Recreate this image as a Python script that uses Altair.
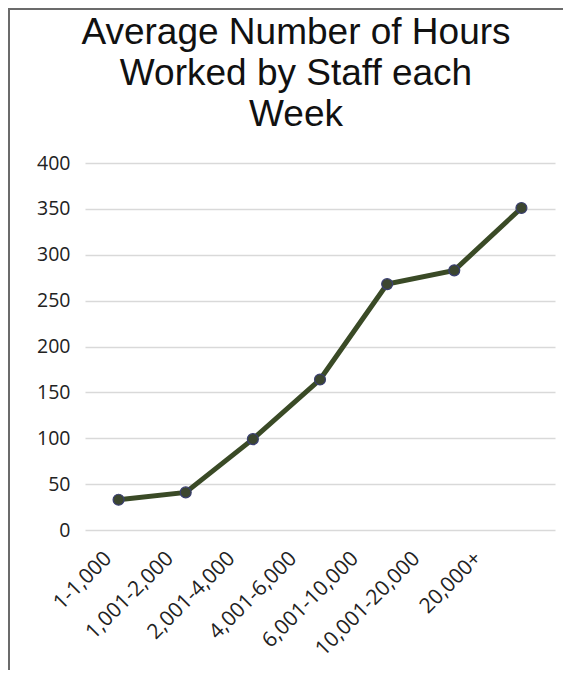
import altair as alt
import pandas as pd

categories = ["1-1,000", "1,001-2,000", "2,001-4,000", "4,001-6,000",
              "6,001-10,000", "10,001-20,000", "20,000+"]
hours = [33, 41, 99, 164, 268, 283, 351]
y_ticks = [0, 50, 100, 150, 200, 250, 300, 350, 400]
title_lines = ["Average Number of Hours", "Worked by Staff each", "Week"]

df = pd.DataFrame({"category": categories, "hours": hours})

W, H = 470, 367

y_enc = alt.Y("hours:Q", scale=alt.Scale(domain=[0, 400]),
              axis=alt.Axis(title=None, values=y_ticks, domain=False, ticks=False,
                            gridColor="#d9d9d9", gridWidth=1.5,
                            labelFont="Open Sans", labelFontSize=19.5,
                            labelColor="#222222", labelPadding=15))

base = alt.Chart(df).encode(
    x=alt.X("category:N", sort=categories,
            scale=alt.Scale(type="point", padding=0.5), axis=None),
    y=y_enc,
)

line = base.mark_line(color="#3a4a26", strokeWidth=5)
points = base.mark_point(filled=True, size=120, color="#3c4630", stroke="#3a3f70",
                         strokeWidth=1.2, opacity=1)

# x-axis labels (Excel packs the rotated labels a little tighter than the ticks)
labels = alt.Chart(df).mark_point(opacity=0).encode(
    x=alt.X("category:N", sort=categories,
            scale=alt.Scale(type="point", padding=0, range=[23, 393]),
            axis=alt.Axis(title=None, labelAngle=315, labelAlign="right",
                          labelBaseline="middle", domain=False, ticks=False,
                          grid=False, labelFont="Open Sans", labelFontSize=21,
                          labelColor="#222222", labelPadding=25)),
    y=y_enc,
)

frame = alt.Chart(pd.DataFrame({"a": [0]})).mark_rect(
    fill=None, stroke="#6b6b6b", strokeWidth=2
).encode(x=alt.value(-76), x2=alt.value(W + 40), y=alt.value(-154), y2=alt.value(H + 200))

chart = alt.layer(frame, line, points, labels).resolve_scale(x="independent").properties(
    width=W, height=H,
    title=alt.TitleParams(title_lines, fontSize=37, font="Liberation Sans",
                          fontWeight="normal", color="#111111", lineHeight=41,
                          anchor="middle", dx=-24, offset=-126),
    autosize=alt.AutoSizeParams(type="none"),
    padding={"left": 77, "top": 155, "right": 8, "bottom": 140},
).configure_view(stroke=None)

chart.save("out.html", embed_options={"renderer": "svg", "actions": False})
